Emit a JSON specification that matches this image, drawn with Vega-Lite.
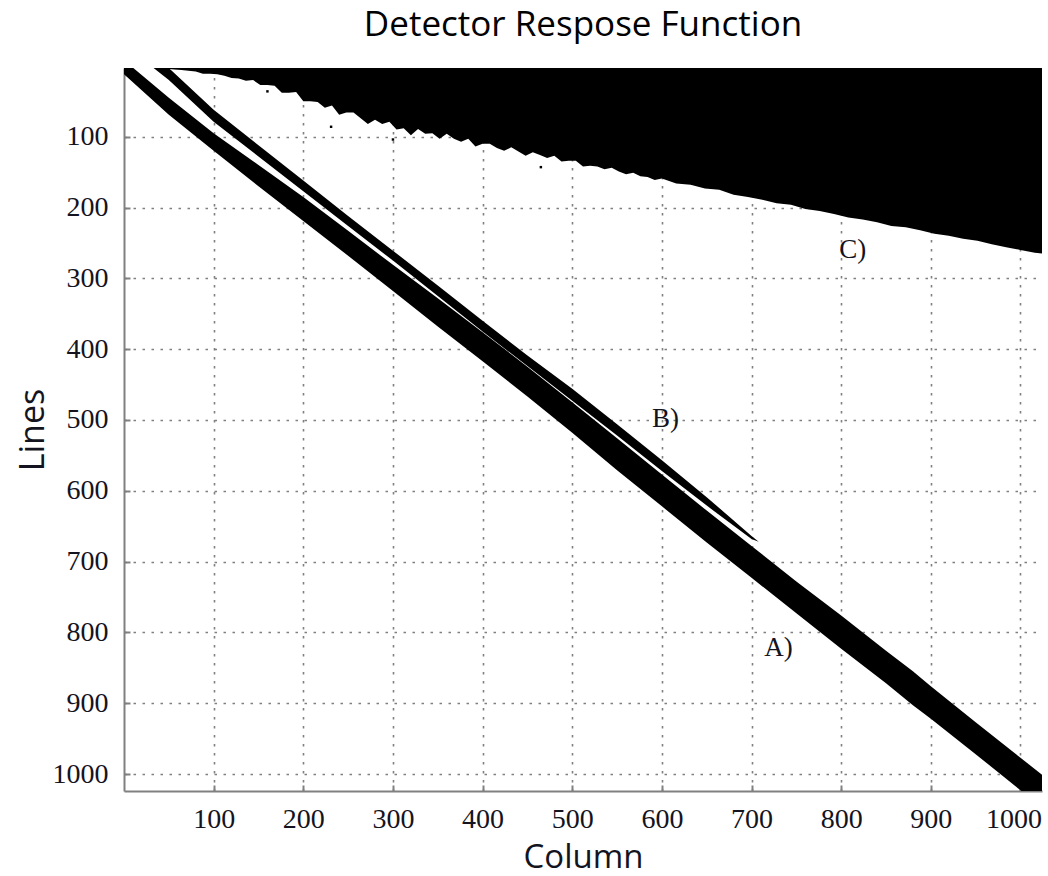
{
  "$schema": "https://vega.github.io/schema/vega-lite/v6.json",
  "width": 918,
  "height": 723,
  "autosize": {"type": "none"},
  "padding": {"left": 124, "top": 68, "right": 6, "bottom": 85},
  "background": "white",
  "title": {
    "text": "Detector Respose Function",
    "font": "Open Sans",
    "fontSize": 35,
    "fontWeight": "normal",
    "color": "#000000",
    "anchor": "middle",
    "baseline": "alphabetic",
    "offset": -3
  },
  "config": {
    "view": {"stroke": null},
    "axis": {
      "grid": true,
      "gridColor": "#808080",
      "gridDash": [2.5, 6.5],
      "gridWidth": 1.6,
      "domainColor": "#808080",
      "domainWidth": 2,
      "tickColor": "#808080",
      "tickWidth": 2,
      "tickSize": -6,
      "labelFont": "Liberation Serif",
      "labelFontSize": 28,
      "labelColor": "#141420",
      "labelFlush": false,
      "labelOverlap": false,
      "titleFont": "Open Sans",
      "titleFontSize": 34,
      "titleFontWeight": "normal",
      "titleColor": "#141420"
    }
  },
  "datasets": {
    "bandA": [
      {"col": 0, "top": -8, "bottom": 12},
      {"col": 50, "top": 45, "bottom": 69},
      {"col": 100, "top": 95, "bottom": 120},
      {"col": 150, "top": 140, "bottom": 170},
      {"col": 200, "top": 185, "bottom": 219},
      {"col": 250, "top": 233, "bottom": 268},
      {"col": 300, "top": 281, "bottom": 318},
      {"col": 350, "top": 328, "bottom": 368},
      {"col": 400, "top": 376, "bottom": 417},
      {"col": 450, "top": 425, "bottom": 467},
      {"col": 500, "top": 475, "bottom": 518},
      {"col": 550, "top": 526, "bottom": 571},
      {"col": 600, "top": 577, "bottom": 622},
      {"col": 650, "top": 628, "bottom": 673},
      {"col": 700, "top": 678, "bottom": 723},
      {"col": 750, "top": 728, "bottom": 773},
      {"col": 800, "top": 776, "bottom": 823},
      {"col": 850, "top": 826, "bottom": 872},
      {"col": 880, "top": 855, "bottom": 903},
      {"col": 900, "top": 876, "bottom": 922},
      {"col": 950, "top": 927, "bottom": 972},
      {"col": 1000, "top": 977, "bottom": 1023},
      {"col": 1024, "top": 1001, "bottom": 1047}
    ],
    "bandB": [
      {"col": 25, "top": -22, "bottom": -5},
      {"col": 50, "top": 3, "bottom": 20},
      {"col": 100, "top": 62, "bottom": 79},
      {"col": 150, "top": 112, "bottom": 128},
      {"col": 200, "top": 162, "bottom": 177},
      {"col": 250, "top": 212, "bottom": 226},
      {"col": 300, "top": 261, "bottom": 275},
      {"col": 350, "top": 310, "bottom": 325},
      {"col": 400, "top": 360, "bottom": 375},
      {"col": 450, "top": 409, "bottom": 424},
      {"col": 500, "top": 456, "bottom": 473},
      {"col": 550, "top": 506, "bottom": 522},
      {"col": 600, "top": 557, "bottom": 572},
      {"col": 650, "top": 609, "bottom": 621},
      {"col": 700, "top": 664, "bottom": 668},
      {"col": 708, "top": 672, "bottom": 672}
    ],
    "bandC": [
      {"col": 32, "edge": 2}, {"col": 40, "edge": 3}, {"col": 48, "edge": 4}, {"col": 56, "edge": 5},
      {"col": 64, "edge": 6}, {"col": 72, "edge": 7}, {"col": 80, "edge": 8}, {"col": 88, "edge": 11},
      {"col": 96, "edge": 11}, {"col": 104, "edge": 12}, {"col": 112, "edge": 14}, {"col": 120, "edge": 17},
      {"col": 128, "edge": 18}, {"col": 136, "edge": 21}, {"col": 144, "edge": 20}, {"col": 152, "edge": 27},
      {"col": 160, "edge": 27}, {"col": 168, "edge": 28}, {"col": 176, "edge": 38}, {"col": 184, "edge": 38},
      {"col": 192, "edge": 37}, {"col": 200, "edge": 50}, {"col": 208, "edge": 50}, {"col": 216, "edge": 51},
      {"col": 224, "edge": 59}, {"col": 232, "edge": 56}, {"col": 240, "edge": 69}, {"col": 248, "edge": 66},
      {"col": 256, "edge": 66}, {"col": 264, "edge": 74}, {"col": 272, "edge": 82}, {"col": 280, "edge": 76},
      {"col": 288, "edge": 82}, {"col": 296, "edge": 79}, {"col": 304, "edge": 90}, {"col": 312, "edge": 88},
      {"col": 320, "edge": 98}, {"col": 328, "edge": 89}, {"col": 336, "edge": 96}, {"col": 344, "edge": 95},
      {"col": 352, "edge": 103}, {"col": 360, "edge": 96}, {"col": 368, "edge": 103}, {"col": 376, "edge": 107},
      {"col": 384, "edge": 103}, {"col": 392, "edge": 114}, {"col": 400, "edge": 110}, {"col": 408, "edge": 110},
      {"col": 416, "edge": 116}, {"col": 424, "edge": 120}, {"col": 432, "edge": 115}, {"col": 440, "edge": 121},
      {"col": 448, "edge": 127}, {"col": 456, "edge": 122}, {"col": 464, "edge": 126}, {"col": 472, "edge": 130},
      {"col": 480, "edge": 127}, {"col": 488, "edge": 135}, {"col": 496, "edge": 134}, {"col": 504, "edge": 134},
      {"col": 512, "edge": 142}, {"col": 520, "edge": 141}, {"col": 528, "edge": 142}, {"col": 536, "edge": 146},
      {"col": 544, "edge": 144}, {"col": 552, "edge": 149}, {"col": 560, "edge": 153}, {"col": 568, "edge": 151},
      {"col": 576, "edge": 156}, {"col": 584, "edge": 157}, {"col": 592, "edge": 161}, {"col": 600, "edge": 159},
      {"col": 616, "edge": 166}, {"col": 632, "edge": 168}, {"col": 648, "edge": 173}, {"col": 664, "edge": 175},
      {"col": 680, "edge": 182}, {"col": 696, "edge": 185}, {"col": 712, "edge": 189}, {"col": 728, "edge": 194},
      {"col": 744, "edge": 196}, {"col": 760, "edge": 202}, {"col": 776, "edge": 205}, {"col": 792, "edge": 209},
      {"col": 808, "edge": 214}, {"col": 824, "edge": 217}, {"col": 840, "edge": 221}, {"col": 856, "edge": 226},
      {"col": 872, "edge": 228}, {"col": 888, "edge": 232}, {"col": 904, "edge": 237}, {"col": 920, "edge": 240},
      {"col": 936, "edge": 244}, {"col": 952, "edge": 247}, {"col": 968, "edge": 252}, {"col": 984, "edge": 256},
      {"col": 1000, "edge": 260}, {"col": 1016, "edge": 264}, {"col": 1024, "edge": 265}
    ],
    "specks": [
      {"col": 160, "line": 36},
      {"col": 231, "line": 86},
      {"col": 465, "line": 143},
      {"col": 300, "line": 104}
    ],
    "tags": [
      {"col": 730, "line": 822, "tag": "A)"},
      {"col": 604, "line": 499, "tag": "B)"},
      {"col": 813, "line": 260, "tag": "C)"}
    ]
  },
  "layer": [
    {
      "data": {"name": "bandA"},
      "mark": {"type": "area", "color": "#000000", "clip": true, "interpolate": "linear"},
      "encoding": {
        "x": {
          "field": "col",
          "type": "quantitative",
          "scale": {"domain": [0, 1024], "nice": false, "zero": false},
          "axis": {
            "title": "Column",
            "format": "d",
            "values": [100, 200, 300, 400, 500, 600, 700, 800, 900, 1000],
            "labelPadding": 20,
            "labelOffset": {"condition": {"test": "datum.value == 1000", "value": -7}, "value": 0},
            "titleFontSize": 33,
            "titlePadding": 8
          }
        },
        "y": {
          "field": "top",
          "type": "quantitative",
          "scale": {"domain": [3, 1024], "reverse": true, "nice": false, "zero": false},
          "axis": {
            "title": "Lines",
            "format": "d",
            "values": [100, 200, 300, 400, 500, 600, 700, 800, 900, 1000],
            "labelPadding": 22,
            "labelBaseline": "middle",
            "titlePadding": 2
          }
        },
        "y2": {"field": "bottom"}
      }
    },
    {
      "data": {"name": "bandB"},
      "mark": {"type": "area", "color": "#000000", "clip": true, "interpolate": "linear"},
      "encoding": {
        "x": {"field": "col", "type": "quantitative"},
        "y": {"field": "top", "type": "quantitative"},
        "y2": {"field": "bottom"}
      }
    },
    {
      "data": {"name": "bandC"},
      "mark": {"type": "area", "color": "#000000", "clip": true, "interpolate": "linear"},
      "encoding": {
        "x": {"field": "col", "type": "quantitative"},
        "y": {"field": "edge", "type": "quantitative"},
        "y2": {"datum": 0}
      }
    },
    {
      "data": {"name": "specks"},
      "mark": {"type": "square", "color": "#000000", "size": 6, "opacity": 1, "filled": true},
      "encoding": {
        "x": {"field": "col", "type": "quantitative"},
        "y": {"field": "line", "type": "quantitative"}
      }
    },
    {
      "data": {"name": "tags"},
      "mark": {"type": "text", "font": "Liberation Serif", "fontSize": 27, "color": "#141420", "align": "center", "baseline": "middle"},
      "encoding": {
        "x": {"field": "col", "type": "quantitative"},
        "y": {"field": "line", "type": "quantitative"},
        "text": {"field": "tag"}
      }
    }
  ]
}
